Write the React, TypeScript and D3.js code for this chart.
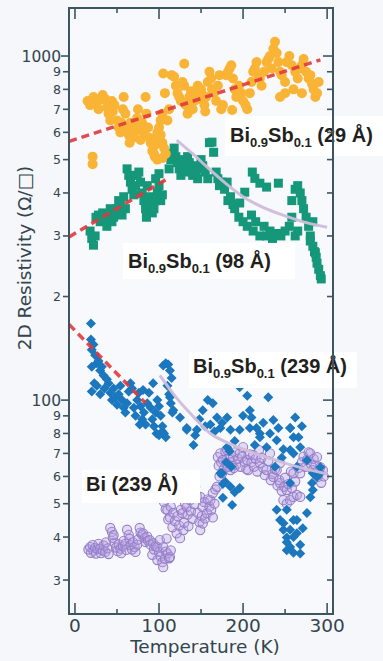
import React from "react";
import * as d3 from "d3";

// ---------- data (T in K, R in ohm/sq) ----------
const orange29: [number, number][] = [
  [15,740],[18,720],[22,760],[25,735],[28,700],[30,745],[33,770],[36,750],[38,710],[40,680],[42,650],[45,690],[47,720],[44,740],
  [21,510],[21,485],
  [50,650],[52,620],[54,600],[55,640],[57,700],[58,760],[60,680],[62,620],[64,590],[65,560],[66,640],[68,600],[70,580],[72,630],
  [74,660],[75,700],[76,610],[78,570],[80,640],[82,600],[84,760],[85,680],[87,620],[88,580],[90,560],[92,530],[94,520],[95,550],
  [96,580],[98,600],[100,620],[102,590],[104,560],[106,540],[108,520],[104,505],[98,500],[95,510],[102,650],[104,680],[105,890],[107,780],
  [110,650],[112,700],[115,880],[118,870],[120,820],[122,780],[124,760],[126,740],[128,840],[130,950],[130,820],[132,720],[134,680],
  [136,760],[138,790],[140,700],[142,740],[144,780],[146,820],[148,750],[150,800],[152,770],[154,720],[155,690],[156,760],[158,840],
  [160,900],[162,860],[163,800],[165,780],[168,740],[170,820],[172,880],[174,700],[176,720],[187,697],
  [180,880],[182,900],[184,920],[186,940],[188,860],[190,800],[192,760],[195,820],[198,780],[200,740],[203,720],[205,700],[208,780],
  [210,840],[212,900],[214,920],[216,960],[218,880],[220,860],[222,820],[225,900],[228,960],[230,980],[232,1000],[234,920],[236,1050],
  [238,1100],[240,1020],[242,960],[244,900],[246,880],[250,840],[252,960],[255,1000],[258,940],[262,900],[265,860],[268,920],[270,940],
  [272,980],[275,900],[278,860],[280,880],[282,830],[284,800],[286,760],[288,780],[290,840],[270,780],[260,800],[250,780],[244,760]
];

const teal98: [number, number][] = [
  [18,310],[20,295],[22,282],[24,300],
  [25,340],[28,345],[30,330],[33,350],[36,335],[38,320],[40,345],[42,360],[44,330],[46,340],[48,350],
  [50,360],[52,380],[54,370],[56,345],[58,390],[60,360],
  [62,470],[64,450],[66,430],[68,410],[70,395],[72,420],[74,450],[76,460],[78,430],[80,400],[82,380],[84,360],[85,340],[86,420],
  [88,390],[90,370],[92,350],[94,360],[96,380],[98,400],[100,420],[102,380],[104,395],[100,455],[96,440],
  [112,470],[114,500],[116,520],[118,540],[120,510],[122,490],[124,470],[126,450],[128,500],[130,480],[132,460],[134,510],[136,490],
  [138,470],[140,450],[142,480],[144,460],[146,440],[148,470],[150,500],[152,480],[155,460],[158,440],[160,560],[163,562],[165,525],
  [168,460],[170,440],[172,420],[175,430],[178,410],[181,430],[182,380],[185,390],[188,370],
  [196,374],[202,402],[211,460],[214,441],[220,427],[228,416],[242,427],
  [190,360],[195,340],[200,330],[205,320],[210,345],[212,310],[215,330],[220,300],[225,320],[228,300],[232,310],[235,295],[240,305],
  [245,300],[250,310],[255,320],[258,340],[262,300],[265,310],
  [258,380],[262,410],[265,420],[268,400],[270,380],[272,360],[275,340],[278,320],[280,300],[283,330],
  [280,290],[283,280],[285,270],[286,268],[287,260],[288,250],[290,240],[292,230],[293,225]
];

const blue239: [number, number][] = [
  [19,167],[19,150],[20,140],[22,145],[24,135],[26,128],[20,125],[28,130],[30,122],[32,125],[34,118],[20,106],[23,112],[26,110],
  [30,104],[35,108],[38,115],[40,112],[42,105],[44,100],[46,108],[48,102],[50,97],[52,104],[54,110],[56,100],[58,95],[60,92],[62,98],
  [64,106],[66,112],[68,108],[70,95],[72,90],[74,100],[76,105],[78,96],[80,88],[82,92],[84,85],[86,98],[88,105],[90,95],[92,88],
  [94,84],[96,92],[98,100],[100,96],[102,90],[104,84],[106,80],[108,78],[105,126],[108,128],[111,127],[113,122],[115,116],[110,110],
  [112,104],[114,98],[116,92],[81,107],[93,112],[77,85],[97,80],[100,79],[104,81],
  [113,102],[117,93.5],[125,89],[133,83],[145,82],[152,93.5],[158,100],[164,98],[169,89],[173,83],[181,89],[185,82],[196,109],
  [205,103],[208,93.5],[210,89],[216,83],[220,80],[230,102],[236,87.5],[242,83],[256,83],[262,89],
  [133,82],[141,74],[143,79],[161,85],[166,81],[181,73],[196,82],[208,83],[220,78],[228,73],[240,76.5],[256,83],[260,78],[256,71.6],
  [148,88],[155,84],[175,86],[190,76],[200,90],[214,74],[224,86],[232,80],[248,72],[266,78],[270,84],
  [175,61.3],[179,57.8],[185,56],[190,54],[196,55.5],[187,49.6],[176,52],[173,61.3],[176,57],[180,66],[186,64],[184,71],
  [240,48],[244,44.8],[248,42],[252,39.9],[260,44.8],[264,41],[268,38],[256,37.4],[260,36],
  [252,48],[248,43.9],[256,42],[260,40],[252,38.6],[252,36.6],[268,35.8],[264,44.8],[271,42.4],[276,47],[280,52.2],[283,54.8],
  [282,57.4],[288,59.8],[292,61.3],[292,63.8],[283,61.3],[268,73],[260,70],[276,66.9],[264,64],[256,57.4],[246,68],[238,64]
];

const purpleBi239: [number, number][] = [
  [16,36.8],[18,37.4],[19,36.0],[21,37.9],[22,36.5],[24,37.2],[25,35.8],[27,36.9],[28,38.2],[30,37.0],[31,35.9],[33,36.6],[34,37.8],
  [36,36.2],[37,38.6],[39,37.1],[40,35.7],
  [42,42.5],[44,41.4],[45,39.8],[47,38.5],[46,40.5],
  [49,37.3],[51,36.4],[52,38.1],[54,37.0],[55,35.9],[57,37.6],[58,39.0],[60,38.2],[61,36.7],[62,42.0],[64,40.6],[65,39.5],[66,37.9],
  [68,36.8],[69,38.6],[71,37.4],[72,36.2],[74,38.0],[75,39.3],
  [77,42.5],[78,41.2],[80,40.6],[81,41.0],[83,39.8],[84,38.7],[86,40.1],[87,39.0],[89,39.2],[90,38.0],[92,35.5],[93,38.4],[94,36.8],
  [96,37.6],[98,34.3],[98,37.4],[100,36.2],[101,39.2],[102,35.1],[104,33.8],[105,37.4],[105,32.7],[107,34.6],[108,36.3],[110,35.8],
  [112,34.7],[113,35.0],[114,36.6],[109,39.6],
  [106,50.5],[108,48.2],[110,47.9],[111,45.0],[113,45.6],[114,49.0],[116,42.7],[117,47.0],[119,44.5],[121,41.0],[122,46.0],[124,43.2],
  [125,39.7],[126,48.0],[128,46.9],[129,41.9],[130,44.0],[131,50.0],[133,48.9],[134,46.5],[135,43.0],[137,51.2],[138,47.5],[140,45.2],
  [141,54.8],[142,49.8],[143,56.0],[145,52.5],[146,47.0],[148,44.2],[149,41.9],[149,52.3],[151,46.0],[152,48.9],[152,43.8],[154,50.5],
  [155,45.3],[157,46.9],[158,51.5],[160,49.0],[161,51.2],[162,47.9],[164,53.7],[164,45.6],[166,50.0],[167,55.0],[169,56.0],
  [170,68.3],[171,64.5],[172,60.0],[173,70.0],[174,66.0],[175,61.3],[176,67.0],[177,63.0],[179,71.0],[180,65.5],[181,71.6],[182,64.0],
  [184,68.0],[185,62.6],[186,66.0],[188,68.3],[189,63.5],[190,70.5],[192,65.0],[194,67.5],[196,70.0],[197,64.0],[199,68.5],[200,73.0],
  [202,66.0],[204,63.0],[205,67.0],[206,62.6],[208,69.5],[210,66.0],[212,69.2],[213,64.0],[215,67.5],[217,62.0],[219,71.6],[220,65.6],
  [222,68.0],[224,63.5],[226,60.5],[228,62.6],[230,66.5],[232,70.0],[233,58.5],[235,61.0],[236,59.8],[238,63.0],[240,62.6],[241,56.5],
  [243,58.5],[244,57.4],[244,65.6],[246,54.5],[248,51.2],[249,56.0],[250,59.5],[252,54.8],[252,50.0],[254,57.0],[256,51.2],[257,62.0],
  [258,55.5],[260,52.3],[260,61.3],[262,58.0],[264,53.0],[266,63.5],[268,52.3],[268,61.3],[270,66.0],[272,68.5],[274,64.0],[276,67.0],
  [278,70.5],[280,70.0],[281,65.0],[283,62.6],[284,67.5],[286,64.5],[288,68.3],[289,59.8],[290,62.0],[292,63.8],[293,57.5],[295,62.6],
  [296,60.0]
];

// fit lines
const fitOrange: [number, number][] = [[-7, 565], [292, 975]];
const fitTeal: [number, number][] = [[-7, 298], [110, 440]];
const fitBlue: [number, number][] = [[-7, 166], [84, 98]];
const curveTeal: [number, number][] = [[121,570],[140,520],[157,476],[180,425],[200,390],[225,362],[250,343],[275,328],[300,318]];
const curveBlue: [number, number][] = [[101,118],[120,102],[140,90],[161,80],[180,75.5],[200,72],[230,68],[260,64.5],[300,61]];

// ticks
const xMajorTicks = [0, 100, 200, 300];
const xMinorTicks = [50, 150, 250];
const yMajorTicks = [100, 1000];
const yMinorTicks = [30, 40, 50, 60, 70, 80, 90, 200, 300, 400, 500, 600, 700, 800, 900];
const yMinorLabels = ["3", "4", "5", "6", "7", "8", "9", "2", "3", "4", "5", "6", "7", "8", "9"];

const W = 383, H = 661;
const L = 69, R = 333, T = 8, B = 614;

const x = d3.scaleLinear().domain([-7.1, 307]).range([L, R]);
const y = d3.scaleLog().domain([23.9, 1379]).range([B, T]);

const line = d3.line<[number, number]>().x(d => x(d[0])).y(d => y(d[1]));
const smooth = d3.line<[number, number]>().x(d => x(d[0])).y(d => y(d[1])).curve(d3.curveMonotoneX);

const axisColor = "#3d5561";
const textColor = "#33454e";
const tickFont = "DejaVu Sans, Verdana, sans-serif";
const labelFont = "Liberation Sans, Arial, sans-serif";

export default function App() {
  const diamond = "M0,-5L5,0L0,5L-5,0Z";
  const labelStyle: React.CSSProperties = { whiteSpace: "pre" };
  return (
    <svg width={W} height={H} style={{ position: "absolute", left: 0, top: 0, background: "#f5f7fa" }}>
      <rect x={0} y={0} width={W} height={H} fill="#f5f7fa" />
      <rect x={L} y={T} width={R - L} height={B - T} fill="#f8f9fc" />

      {/* teal squares */}
      <g fill="#15977a">
        {teal98.map((d, i) => (
          <rect key={i} x={x(d[0]) - 4.5} y={y(d[1]) - 4.5} width={9} height={9} />
        ))}
      </g>
      {/* orange circles */}
      <g fill="#f9b435">
        {orange29.map((d, i) => (
          <circle key={i} cx={x(d[0])} cy={y(d[1])} r={5} />
        ))}
      </g>
      {/* purple open circles */}
      <g fill="rgba(185,160,225,0.35)" stroke="#9580c8" strokeWidth={1.1}>
        {purpleBi239.map((d, i) => (
          <circle key={i} cx={x(d[0])} cy={y(d[1])} r={4.6} />
        ))}
      </g>
      {/* blue diamonds */}
      <g fill="#1b77be">
        {blue239.map((d, i) => (
          <path key={i} d={diamond} transform={`translate(${x(d[0])},${y(d[1])})`} />
        ))}
      </g>

      {/* fits */}
      <g fill="none" stroke="#e0393d" strokeWidth={3.5} strokeDasharray="8,5" opacity={0.9}>
        <path d={line(fitOrange) || ""} />
        <path d={line(fitTeal) || ""} />
        <path d={line(fitBlue) || ""} />
      </g>
      <g fill="none" stroke="#cdbddb" strokeWidth={3} opacity={0.95}>
        <path d={smooth(curveTeal) || ""} />
        <path d={smooth(curveBlue) || ""} />
      </g>

      {/* label boxes */}
      <g fill="#ffffff">
        <rect x={225} y={116} width={158} height={40} />
        <rect x={123} y={243} width={172} height={36} />
        <rect x={189} y={352} width={168} height={36} />
        <rect x={82} y={470} width={118} height={33} />
      </g>
      <g fontFamily={labelFont} fontWeight="bold" fontSize={20} fill="#231f20" style={labelStyle}>
        <text x={230} y={142}>Bi<tspan fontSize={13} dy={5}>0.9</tspan><tspan dy={-5}>Sb</tspan><tspan fontSize={13} dy={5}>0.1</tspan><tspan dy={-5}>{" (29  Å)"}</tspan></text>
        <text x={128} y={268}>Bi<tspan fontSize={13} dy={5}>0.9</tspan><tspan dy={-5}>Sb</tspan><tspan fontSize={13} dy={5}>0.1</tspan><tspan dy={-5}>{" (98  Å)"}</tspan></text>
        <text x={193} y={373}>Bi<tspan fontSize={13} dy={5}>0.9</tspan><tspan dy={-5}>Sb</tspan><tspan fontSize={13} dy={5}>0.1</tspan><tspan dy={-5}>{" (239  Å)"}</tspan></text>
        <text x={86} y={491}>{"Bi (239  Å)"}</text>
      </g>

      {/* frame */}
      <rect x={L} y={T} width={R - L} height={B - T} fill="none" stroke={axisColor} strokeWidth={2} />

      {/* ticks */}
      <g stroke={axisColor} strokeWidth={1.6}>
        {xMajorTicks.map(t => (
          <g key={"xm" + t}>
            <line x1={x(t)} x2={x(t)} y1={B} y2={B - 11} />
            <line x1={x(t)} x2={x(t)} y1={T} y2={T + 11} />
          </g>
        ))}
        {xMinorTicks.map(t => (
          <g key={"xn" + t}>
            <line x1={x(t)} x2={x(t)} y1={B} y2={B - 5} />
            <line x1={x(t)} x2={x(t)} y1={T} y2={T + 5} />
          </g>
        ))}
        {yMajorTicks.map(t => (
          <g key={"ym" + t}>
            <line x1={L - 8} x2={L} y1={y(t)} y2={y(t)} />
            <line x1={R} x2={R - 10} y1={y(t)} y2={y(t)} />
          </g>
        ))}
        {yMinorTicks.map(t => (
          <g key={"yn" + t}>
            <line x1={L - 6} x2={L} y1={y(t)} y2={y(t)} />
            <line x1={R} x2={R - 6} y1={y(t)} y2={y(t)} />
          </g>
        ))}
      </g>

      {/* tick labels */}
      <g fontFamily={tickFont} fill={textColor}>
        {xMajorTicks.map(t => (
          <text key={"xl" + t} x={x(t)} y={632} fontSize={18.5} textAnchor="middle">{t}</text>
        ))}
        {yMajorTicks.map(t => (
          <text key={"yl" + t} x={L - 8} y={y(t) + 5.5} fontSize={15.5} textAnchor="end">{t}</text>
        ))}
        {yMinorTicks.map((t, i) => (
          <text key={"yln" + t} x={L - 8} y={y(t) + 4.5} fontSize={12.5} textAnchor="end">{yMinorLabels[i]}</text>
        ))}
        <text x={205} y={653} fontSize={18.5} textAnchor="middle">Temperature (K)</text>
        <text transform="translate(31,258) rotate(-90)" fontSize={18.5} textAnchor="middle">2D Resistivity (Ω/□)</text>
      </g>
    </svg>
  );
}
